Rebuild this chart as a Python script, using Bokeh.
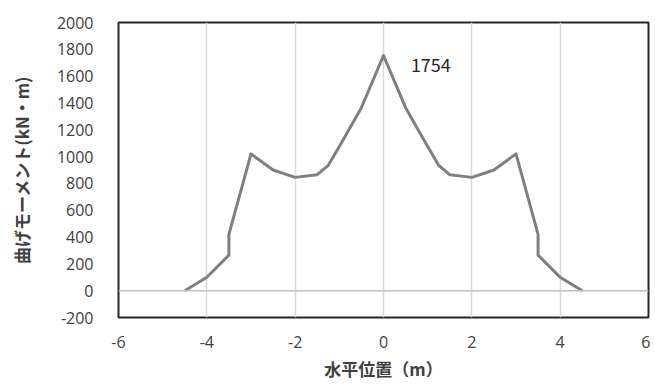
from bokeh.plotting import figure
from bokeh.models import ColumnDataSource, Span, Range1d, FixedTicker, Label, CustomJSTickFormatter
from bokeh.embed import file_html
from bokeh.resources import INLINE

# Data
position_m = [-4.5, -4.0, -3.5, -3.5, -3.0, -2.5, -2.0, -1.5, -1.25, -1.0, -0.5, 0.0,
              0.5, 1.0, 1.25, 1.5, 2.0, 2.5, 3.0, 3.5, 3.5, 4.0, 4.5]
moment_kNm = [0, 100, 265, 420, 1020, 900, 845, 865, 935, 1075, 1365, 1754,
              1365, 1075, 935, 865, 845, 900, 1020, 420, 265, 100, 0]
x_ticks = [-6, -4, -2, 0, 2, 4, 6]
y_ticks = [-200, 0, 200, 400, 600, 800, 1000, 1200, 1400, 1600, 1800, 2000]
peak_label = "1754"

src = ColumnDataSource(dict(x=position_m, y=moment_kNm))

p = figure(width=650, height=388, output_backend="svg", toolbar_location=None,
           x_range=Range1d(-6, 6), y_range=Range1d(-200, 2000),
           min_border_left=118, min_border_right=2, min_border_top=22, min_border_bottom=71)

p.background_fill_color = "white"
p.border_fill_color = "white"
p.outline_line_color = "#262626"
p.outline_line_width = 2

fmt = CustomJSTickFormatter(code="return tick.toString();")
p.xaxis.ticker = FixedTicker(ticks=x_ticks)
p.yaxis.ticker = FixedTicker(ticks=y_ticks)
for ax in (p.xaxis[0], p.yaxis[0]):
    ax.formatter = fmt
    ax.axis_line_color = None
    ax.major_tick_line_color = None
    ax.minor_tick_line_color = None
    ax.major_label_text_font = "Open Sans"
    ax.major_label_text_font_size = "16px"
    ax.major_label_text_color = "#404040"
    ax.axis_label_text_font = "Noto Sans CJK JP"
    ax.axis_label_text_font_style = "bold"
    ax.axis_label_text_font_size = "17px"
    ax.axis_label_text_color = "#404040"

p.xaxis.axis_label = "水平位置（m）"
p.yaxis.axis_label = "曲げモーメント(kN・m)"
p.xaxis.major_label_standoff = 12
p.yaxis.major_label_standoff = 19
p.xaxis.axis_label_standoff = 5
p.yaxis.axis_label_standoff = 20

p.xgrid.grid_line_color = "#d9d9d9"
p.xgrid.grid_line_width = 1.5
p.ygrid.grid_line_color = None

p.add_layout(Span(location=0, dimension="width", line_color="#bfbfbf", line_width=1.5))

p.line("x", "y", source=src, line_color="#7f7f7f", line_width=3, line_join="round")

p.add_layout(Label(x=0.62, y=1680, text=peak_label, text_font="Noto Sans CJK JP",
                   text_font_size="18px", text_color="#262626", text_baseline="middle",
                   text_align="left"))

open("out.html", "w").write(file_html(p, INLINE))
